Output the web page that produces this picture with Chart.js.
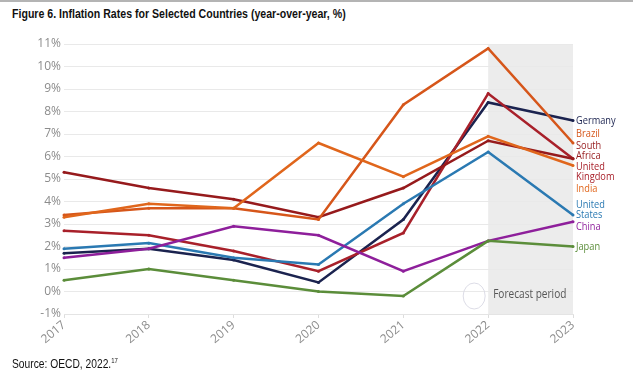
<!DOCTYPE html>
<html>
<head>
<meta charset="utf-8">
<script src="https://cdn.jsdelivr.net/npm/chart.js@4.4.0/dist/chart.umd.min.js"></script>
<style>
    body { margin: 0; background: #fff; width: 633px; height: 392px; overflow: hidden; position: relative; font-family: "Open Sans", sans-serif; }
    #topline { position: absolute; left: 0; top: 0; width: 633px; height: 2px; background: #b4b4b4; }
    #title { position: absolute; left: 12px; top: 6px; font: bold 13px "Liberation Sans", sans-serif; white-space: nowrap; transform-origin: left top; color: #111; }
    #source { position: absolute; left: 12px; top: 357px; font: 12px "Liberation Sans", sans-serif; white-space: nowrap; transform-origin: left top; color: #111; }
    #source sup { font-size: 7px; }
    #chart { position: absolute; left: 0; top: 0; }
</style>
</head>
<body>
<div id="topline"></div>
<div id="title">Figure 6. Inflation Rates for Selected Countries (year-over-year, %)</div>
<canvas id="chart" width="633" height="392"></canvas>
<div id="source">Source: OECD, 2022.<sup>17</sup></div>
<script>
    // data (%)
    const years = ["2017", "2018", "2019", "2020", "2021", "2022", "2023"];
    const germany = [1.7, 1.9, 1.4, 0.4, 3.2, 8.4, 7.6];
    const brazil = [3.4, 3.7, 3.7, 3.2, 8.3, 10.8, 6.6];
    const southAfrica = [5.3, 4.6, 4.1, 3.3, 4.6, 6.7, 5.9];
    const unitedKingdom = [2.7, 2.5, 1.8, 0.9, 2.6, 8.8, 5.9];
    const india = [3.3, 3.9, 3.7, 6.6, 5.1, 6.9, 5.6];
    const unitedStates = [1.9, 2.15, 1.5, 1.2, 3.9, 6.2, 3.4];
    const china = [1.5, 1.9, 2.9, 2.5, 0.9, 2.25, 3.1];
    const japan = [0.5, 1.0, 0.5, 0.0, -0.2, 2.25, 2.0];
    const forecastFrom = "2022";

    // fit the html texts to the widths in the figure
    function squeeze(id, target) {
        const el = document.getElementById(id);
        el.style.transform = "scaleX(" + (target / el.offsetWidth) + ")";
    }
    squeeze("title", 334);
    squeeze("source", 106);

    const series = [
        { label: "India", data: india, color: "#e0661c", tag: ["India"], tagAt: 4.56 },
        { label: "Brazil", data: brazil, color: "#d6561a", tag: ["Brazil"], tagAt: 7.0 },
        { label: "Japan", data: japan, color: "#5b8d3a", tag: ["Japan"], tagAt: 1.97 },
        { label: "China", data: china, color: "#8e1f9b", tag: ["China"], tagAt: 2.88 },
        { label: "United States", data: unitedStates, color: "#2a79b2", tag: ["United", "States"], tagAt: 3.83 },
        { label: "South Africa", data: southAfrica, color: "#961a1c", tag: ["South", "Africa"], tagAt: 6.46 },
        { label: "United Kingdom", data: unitedKingdom, color: "#a8202a", tag: ["United", "Kingdom"], tagAt: 5.53 },
        { label: "Germany", data: germany, color: "#1b234f", tag: ["Germany"], tagAt: 7.57 },
    ];

    const forecastShade = {
        id: "forecastShade",
        beforeDraw(chart) {
            const { ctx, chartArea } = chart;
            const x0 = chart.scales.x.getPixelForValue(years.indexOf(forecastFrom));
            ctx.save();
            ctx.fillStyle = "#ececec";
            ctx.fillRect(x0, chartArea.top, chartArea.right - x0, chartArea.bottom - chartArea.top);
            ctx.restore();
        },
        afterDatasetsDraw(chart) {
            const { ctx, chartArea } = chart;
            const x = chart.scales.x;
            const y = chart.scales.y;
            ctx.save();
            ctx.font = "11px 'Open Sans'";
            ctx.textBaseline = "middle";
            series.forEach(s => {
                ctx.fillStyle = s.color;
                s.tag.forEach((line, i) => {
                    ctx.save();
                    ctx.translate(chartArea.right + 3, y.getPixelForValue(s.tagAt) + i * 10);
                    ctx.scale(0.84, 1);
                    ctx.fillText(line, 0, 0);
                    ctx.restore();
                });
            });
            // forecast period key
            const fx = x.getPixelForValue(years.indexOf(forecastFrom));
            const fy = y.getPixelForValue(-0.2);
            ctx.strokeStyle = "#dcdce6";
            ctx.lineWidth = 1;
            ctx.beginPath();
            ctx.ellipse(fx - 14, fy, 11, 13, 0, 0, Math.PI * 2);
            ctx.stroke();
            ctx.fillStyle = "#555";
            ctx.font = "12px 'Open Sans'";
            ctx.translate(fx + 5, fy - 1);
            ctx.scale(0.84, 1);
            ctx.fillText("Forecast period", 0, 0);
            ctx.restore();
        }
    };

    new Chart(document.getElementById("chart"), {
        type: "line",
        data: {
            labels: years,
            datasets: series.map(s => ({
                label: s.label,
                data: s.data,
                borderColor: s.color,
                backgroundColor: s.color,
                borderWidth: 2.5,
                pointRadius: 1.5,
                pointBorderWidth: 0,
                tension: 0,
            })),
        },
        options: {
            responsive: false,
            animation: false,
            layout: { padding: { top: 44, right: 60, left: 0, bottom: 0 } },
            plugins: { legend: { display: false }, tooltip: { enabled: false } },
            scales: {
                x: {
                    offset: false,
                    grid: { drawOnChartArea: false, tickLength: 4, color: "#dddddd" },
                    border: { color: "#e4e4e4" },
                    ticks: { color: "#8c8c8c", font: { family: "Open Sans", size: 12 }, minRotation: 40, maxRotation: 40, autoSkip: false, padding: 0 },
                    afterFit(scale) { scale.height = 78; },
                },
                y: {
                    min: -1,
                    max: 11,
                    grid: { color: "#e9e9e9", drawTicks: false },
                    border: { display: false },
                    ticks: { stepSize: 1, color: "#8c8c8c", font: { family: "Open Sans", size: 12 }, padding: 3, callback: v => v + "%" },
                    afterFit(scale) { scale.width = 64; },
                },
            },
        },
        plugins: [forecastShade],
    });
</script>
</body>
</html>
